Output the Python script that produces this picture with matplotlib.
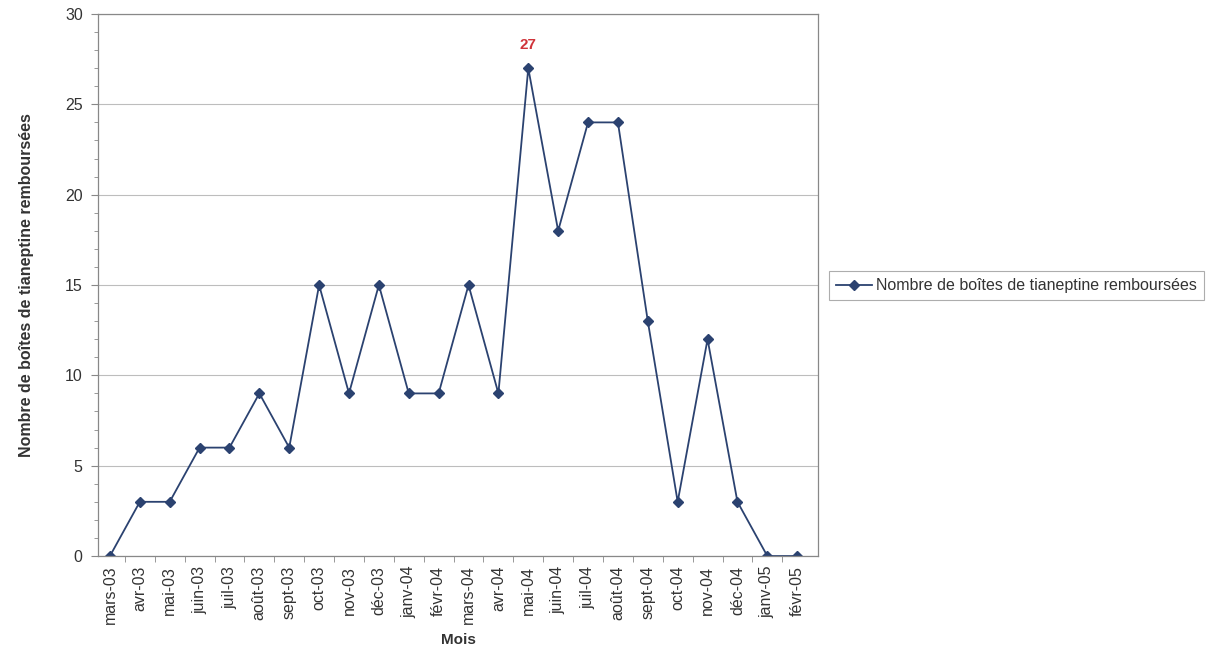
import matplotlib
matplotlib.use("Agg")
import matplotlib.pyplot as plt
from matplotlib.ticker import MultipleLocator

plt.rcParams["font.family"] = ["Liberation Sans", "DejaVu Sans"]

months = ["mars-03", "avr-03", "mai-03", "juin-03", "juil-03", "août-03", "sept-03",
          "oct-03", "nov-03", "déc-03", "janv-04", "févr-04", "mars-04", "avr-04",
          "mai-04", "juin-04", "juil-04", "août-04", "sept-04", "oct-04", "nov-04",
          "déc-04", "janv-05", "févr-05"]
boxes = [0, 3, 3, 6, 6, 9, 6, 15, 9, 15, 9, 9, 15, 9, 27, 18, 24, 24, 13, 3, 12, 3, 0, 0]
series_label = "Nombre de boîtes de tianeptine remboursées"

line_color = "#2b4270"
text_color = "#333333"

fig = plt.figure(figsize=(12.31, 6.57), dpi=100)
ax = fig.add_axes([0.0796, 0.1537, 0.585, 0.825])

x = list(range(len(months)))
ax.plot(x, boxes, color=line_color, lw=1.3, marker="D", ms=5,
        markerfacecolor=line_color, markeredgecolor=line_color, label=series_label)

# peak annotation
peak = max(boxes)
ipeak = boxes.index(peak)
ax.annotate(str(peak), (ipeak, peak), xytext=(0, 12), textcoords="offset points",
            ha="center", va="bottom", color="#d0343a", fontsize=11, fontweight="bold")

ax.set_xlim(-0.4, len(months) - 0.3)
ax.set_ylim(0, 30)
ax.yaxis.set_major_locator(MultipleLocator(5))
ax.yaxis.set_minor_locator(MultipleLocator(1))
ax.set_xticks(x)
ax.set_xticklabels(months, rotation=90, fontsize=11.5, color=text_color)
ax.set_xticks([i + 0.5 for i in x[:-1]], minor=True)
ax.tick_params(axis="x", which="major", length=0, pad=7)
ax.tick_params(axis="x", which="minor", length=4, color="#888888", direction="out")
ax.tick_params(axis="y", which="major", length=5, color="#888888", labelsize=11.5,
               labelcolor=text_color, pad=6)
ax.tick_params(axis="y", which="minor", length=3, color="#888888")

ax.grid(axis="y", which="major", color="#bdbdbd", lw=0.8)
ax.set_axisbelow(True)
for s in ax.spines.values():
    s.set_color("#888888")
    s.set_linewidth(0.9)

ax.set_xlabel("Mois", fontsize=11, fontweight="bold", color=text_color, labelpad=6)
ax.set_ylabel(series_label, fontsize=11.5, fontweight="bold", color=text_color, labelpad=22)

leg = fig.legend(loc="center left", bbox_to_anchor=(0.671, 0.565), fontsize=11.5,
                 frameon=True, fancybox=False, handlelength=2.2, handletextpad=0.25,
                 borderpad=0.45, borderaxespad=0.2)
leg.get_frame().set_edgecolor("#999999")
leg.get_frame().set_linewidth(0.8)
for t in leg.get_texts():
    t.set_color(text_color)

fig.savefig("out.png", dpi=100)
